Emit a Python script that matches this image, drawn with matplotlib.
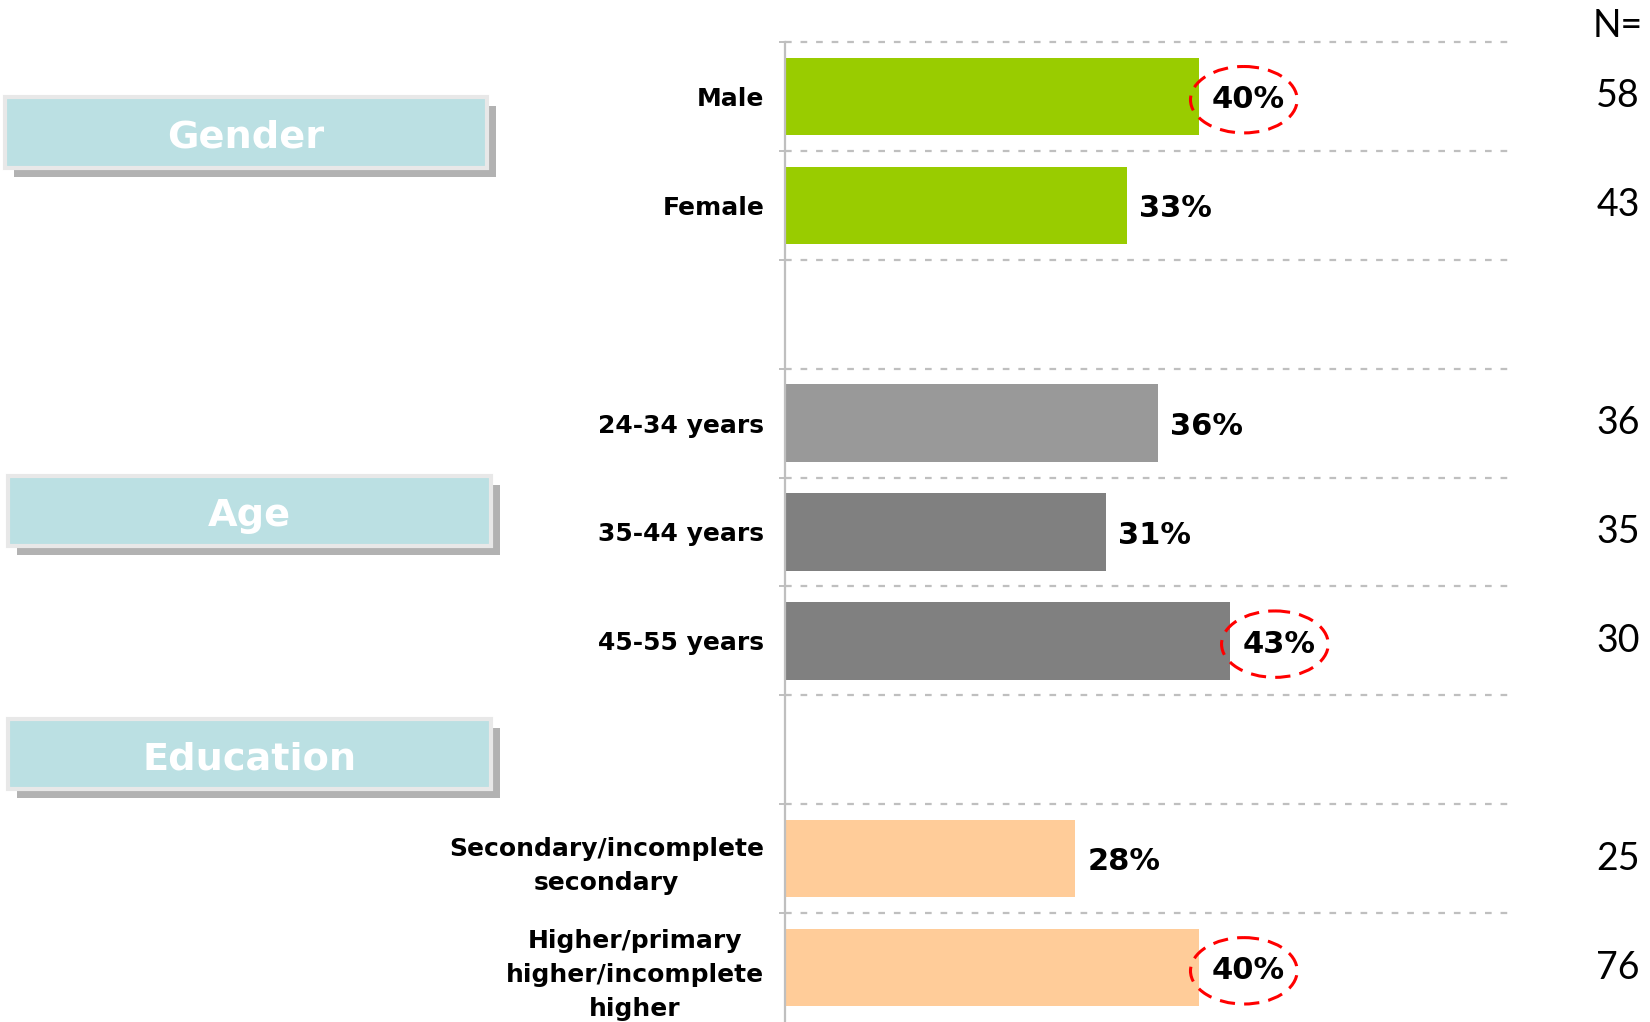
import numpy as np
import matplotlib
matplotlib.use('Agg')
import matplotlib.pyplot as plt
from matplotlib.patches import Rectangle, Ellipse
from matplotlib.transforms import blended_transform_factory

# data (None = spacer row between groups)
categories = ['Male', 'Female', None,
              '24-34 years', '35-44 years', '45-55 years', None,
              'Secondary/incomplete\nsecondary',
              'Higher/primary\nhigher/incomplete\nhigher']
values = [40, 33, None, 36, 31, 43, None, 28, 40]
n_sizes = [58, 43, None, 36, 35, 30, None, 25, 76]
highlight = [True, False, False, False, False, True, False, False, True]
bar_colors = ['#99CC00', '#99CC00', None, '#999999', '#808080', '#808080', None, '#FFCC99', '#FFCC99']
groups = ['Gender', 'Age', 'Education']

W, H = 1650, 1022
fig = plt.figure(figsize=(W / 100, H / 100), dpi=100)
ax = fig.add_axes([785 / W, 0, (1510 - 785) / W, 1 - 42 / H])

ypos = np.arange(len(categories))
for y, v, c in zip(ypos, values, bar_colors):
    if v is None:
        continue
    ax.barh(y, v, height=0.71, color=c, zorder=2)

# value labels + red dashed circles on the highlighted ones
for y, v, hl in zip(ypos, values, highlight):
    if v is None:
        continue
    ax.text(v + 1.2, y + 0.03, f'{v}%', ha='left', va='center',
            fontsize=22, fontweight='bold', color='black', zorder=4)
    if hl:
        ax.add_patch(Ellipse((v + 4.3, y + 0.03), 10.3, 0.61, fill=False,
                             edgecolor='#FF0000', linewidth=2.2,
                             linestyle=(0, (5, 3)), zorder=3))

# dotted separators
for b in np.arange(-0.5, len(categories) - 1, 1.0):
    ax.plot([0, 70], [b, b], color='#BFBFBF', linewidth=1.6,
            linestyle=(0, (3, 4)), zorder=1, clip_on=False)

ax.set_xlim(0, 70)
ax.set_ylim(len(categories) - 0.5, -0.5)
for s in ['top', 'right', 'bottom']:
    ax.spines[s].set_visible(False)
ax.spines['left'].set_color('#BFBFBF')
ax.spines['left'].set_linewidth(1.6)
ax.set_xticks([])

tick_pos = [y for y, c in zip(ypos, categories) if c is not None]
tick_lab = [c for c in categories if c is not None]
ax.set_yticks(tick_pos)
ax.set_yticklabels(tick_lab, fontsize=18, fontweight='bold')
for lbl in ax.get_yticklabels():
    lbl.set_multialignment('center')
    lbl.set_linespacing(1.52)
ax.tick_params(axis='y', which='major', length=0, pad=15)
ax.set_yticks(np.arange(-0.5, len(categories) - 1, 1.0), minor=True)
ax.tick_params(axis='y', which='minor', length=4.5, width=1.4, color='#BFBFBF', direction='out')

# sample sizes on the right
tr = blended_transform_factory(ax.transAxes, ax.transData)
for y, n in zip(ypos, n_sizes):
    if n is None:
        continue
    ax.text(1.179, y, str(n), transform=tr, ha='right', va='center',
            fontsize=27, family='Lato', color='black')
fig.text(1643 / W, 1 - 26 / H, 'N=', ha='right', va='center',
         fontsize=27, family='Lato', color='black')

# group header boxes (pixel boxes: left, top, right, bottom)
boxes = [(5, 97, 487, 168), (8, 476, 491, 546), (8, 719, 491, 789)]
for name, (x0, y0, x1, y1) in zip(groups, boxes):
    fig.add_artist(Rectangle(((x0 + 9) / W, 1 - (y1 + 9) / H), (x1 - x0) / W, (y1 - y0) / H,
                             transform=fig.transFigure, facecolor='#B2B2B2',
                             edgecolor='none', zorder=1))
    fig.add_artist(Rectangle((x0 / W, 1 - y1 / H), (x1 - x0) / W, (y1 - y0) / H,
                             transform=fig.transFigure, facecolor='#BBE0E3',
                             edgecolor='#E8E8E8', linewidth=3, zorder=2))
    fig.text((x0 + x1) / 2 / W, 1 - ((y0 + y1) / 2 + 5) / H, name, ha='center', va='center',
             fontsize=27.5, fontweight='bold', color='white', zorder=3)

fig.savefig('out.png', dpi=100)
